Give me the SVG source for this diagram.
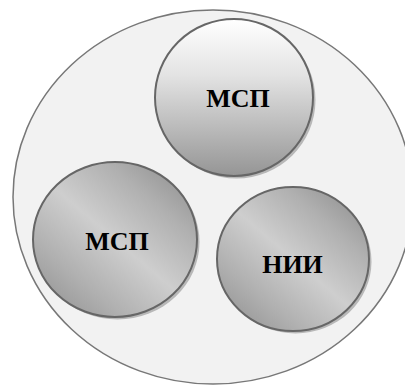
<svg xmlns="http://www.w3.org/2000/svg" width="405" height="385" viewBox="0 0 405 385">
<defs>
<linearGradient id="gTop" x1="0" y1="0" x2="0" y2="1">
<stop offset="0" stop-color="#ffffff"/>
<stop offset="0.35" stop-color="#e4e4e4"/>
<stop offset="1" stop-color="#959595"/>
</linearGradient>
<linearGradient id="gDiag" x1="0.05" y1="1" x2="0.95" y2="0">
<stop offset="0" stop-color="#8e8e8e"/>
<stop offset="0.25" stop-color="#b0b0b0"/>
<stop offset="0.5" stop-color="#cecece"/>
<stop offset="0.75" stop-color="#b0b0b0"/>
<stop offset="1" stop-color="#8a8a8a"/>
</linearGradient>
<style>
.outer{fill:#f2f2f2;stroke:#777777;stroke-width:1.5}
.shadow{fill:#b8b8b8;stroke:none}
.node{stroke:#666666;stroke-width:2}
.lbl{font-weight:bold;font-size:26px;fill:#000;text-anchor:middle}
</style>
</defs>
<ellipse class="outer" cx="213" cy="197" rx="200" ry="187"/>
<g id="node-msp-top">
<ellipse class="shadow" cx="236.5" cy="100" rx="79" ry="78.5"/>
<ellipse class="node" cx="234" cy="97.5" rx="79" ry="78.5" fill="url(#gTop)"/>
<text class="lbl" font-family="'Liberation Serif', 'DejaVu Serif', serif" x="238" y="107">МСП</text>
</g>
<g id="node-msp-left">
<ellipse class="shadow" cx="117.5" cy="242" rx="82" ry="77.5"/>
<ellipse class="node" cx="115" cy="239.5" rx="82" ry="77.5" fill="url(#gDiag)"/>
<text class="lbl" font-family="'Liberation Serif', 'DejaVu Serif', serif" x="117" y="250">МСП</text>
</g>
<g id="node-nii">
<ellipse class="shadow" cx="295.5" cy="261.5" rx="76" ry="72"/>
<ellipse class="node" cx="293" cy="259" rx="76" ry="72" fill="url(#gDiag)"/>
<text class="lbl" font-family="'Liberation Serif', 'DejaVu Serif', serif" x="292.5" y="273">НИИ</text>
</g>
<g id="connectors"/>
</svg>
